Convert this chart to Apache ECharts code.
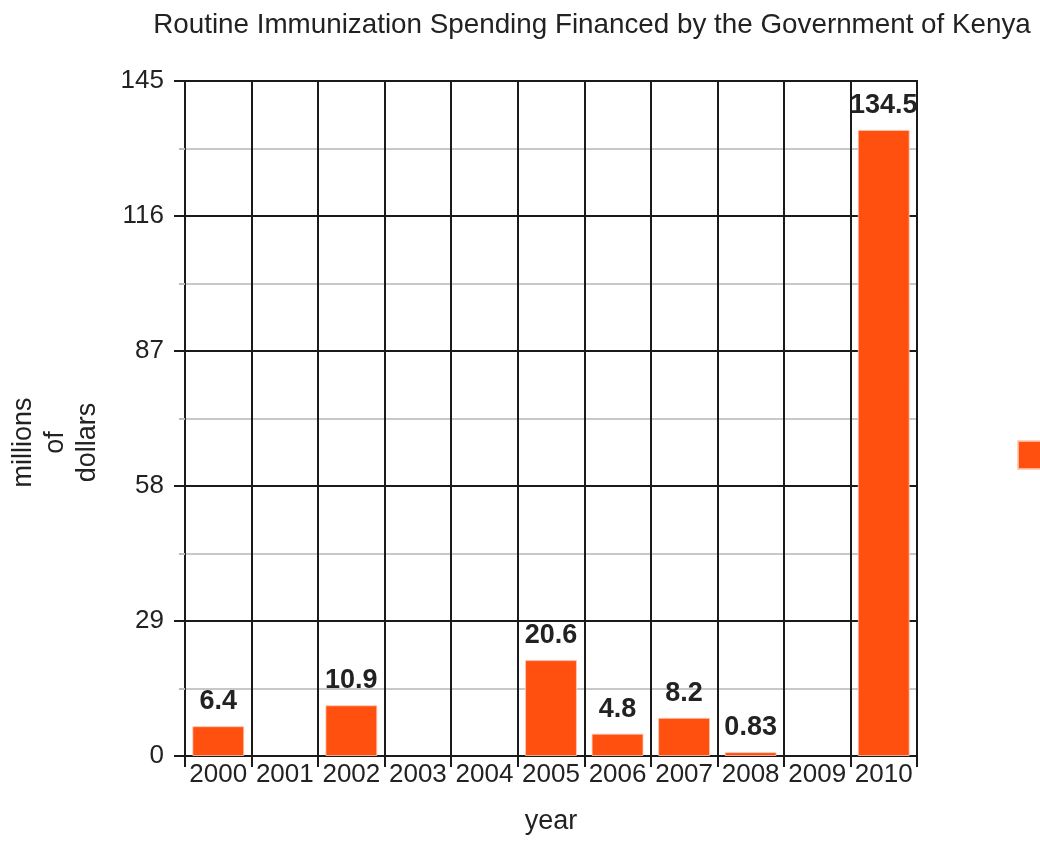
<!DOCTYPE html>
<html>
<head>
<meta charset="utf-8">
<script src="https://cdn.jsdelivr.net/npm/echarts@6/dist/echarts.min.js"></script>
<style>html,body{margin:0;padding:0;background:#fff;}#c{width:1040px;height:841px;}</style>
</head>
<body>
<div id="c"></div>
<script>
const categories = ['2000','2001','2002','2003','2004','2005','2006','2007','2008','2009','2010'];
const spending = [6.4, null, 10.9, null, null, 20.6, 4.8, 8.2, 0.83, null, 134.5];
const yTicks = [0, 29, 58, 87, 116, 145];
const titleText = 'Routine Immunization Spending Financed by the Government of Kenya';

const chart = echarts.init(document.getElementById('c'), null, {renderer: 'canvas'});
const lineColor = '#1a1a1a';
chart.setOption({
  animation: false,
  textStyle: {fontFamily: 'Liberation Sans, Arial, sans-serif'},
  title: {
    text: titleText,
    left: 587, top: 6, textAlign: 'center',
    textStyle: {fontSize: 27.8, fontWeight: 'normal', color: '#222'}
  },
  legend: {
    show: true,
    left: 1012, top: 435,
    itemWidth: 28, itemHeight: 28,
    icon: 'rect',
    formatter: function(){ return ''; },
    data: ['spending']
  },
  grid: {left: 183, right: 123, top: 81, bottom: 85, show: true, borderColor: lineColor, borderWidth: 2},
  xAxis: {
    type: 'category',
    data: categories,
    boundaryGap: true,
    name: 'year',
    nameLocation: 'middle',
    nameGap: 52,
    nameTextStyle: {fontSize: 27, color: '#222'},
    axisLine: {show: true, lineStyle: {color: lineColor, width: 2}},
    axisTick: {show: true, interval: 0, length: 11, lineStyle: {color: lineColor, width: 2}},
    axisLabel: {interval: 0, fontSize: 26, color: '#222', margin: 6},
    splitLine: {show: true, interval: 0, lineStyle: {color: lineColor, width: 2}}
  },
  yAxis: {
    type: 'value',
    min: yTicks[0], max: yTicks[yTicks.length - 1], interval: 29,
    name: 'millions\nof\ndollars',
    nameLocation: 'middle',
    nameRotate: 90,
    nameGap: 81,
    nameTextStyle: {fontSize: 27, color: '#222', lineHeight: 32, align: 'center', padding: [0, 48, 0, 0]},
    axisLine: {show: true, lineStyle: {color: lineColor, width: 2}},
    axisTick: {show: true, length: 11, lineStyle: {color: lineColor, width: 2}},
    axisLabel: {fontSize: 26, color: '#222', margin: 21},
    splitLine: {show: true, lineStyle: {color: lineColor, width: 2}},
    minorTick: {show: true, splitNumber: 2, length: 6, lineStyle: {color: '#bbb', width: 2}},
    minorSplitLine: {show: true, lineStyle: {color: '#c8c8c8', width: 2}}
  },
  series: [{
    name: 'spending',
    type: 'bar',
    data: spending,
    barWidth: '78%',
    itemStyle: {color: '#FF5010', borderColor: 'rgba(255,200,180,0.8)', borderWidth: 1},
    label: {show: true, position: 'top', distance: 11, fontSize: 27, fontWeight: 'bold', color: '#222'}
  }]
});
</script>
</body>
</html>
